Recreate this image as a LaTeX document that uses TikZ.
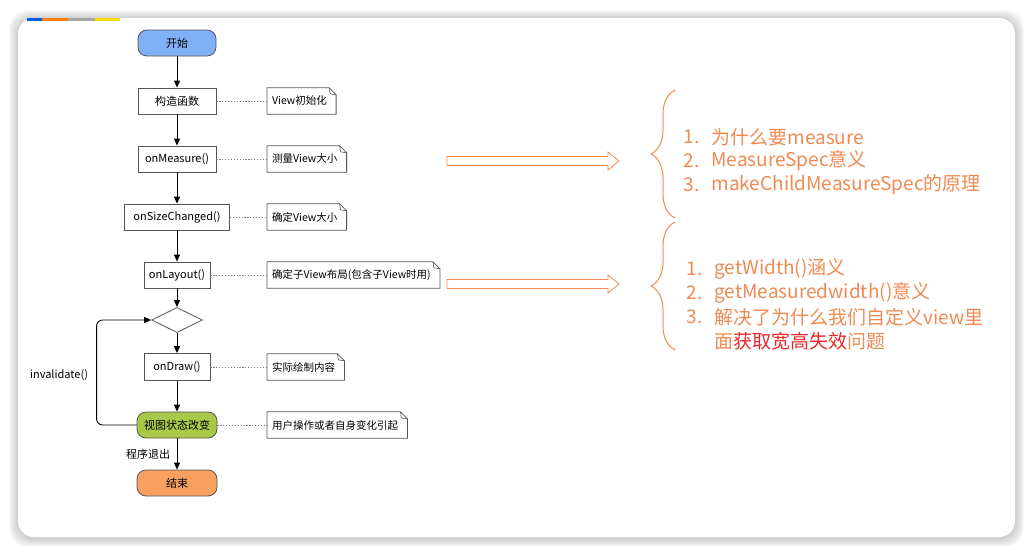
\documentclass[tikz,border=0pt]{standalone}
\usepackage{fontspec}
\setmainfont{Noto Sans CJK SC}
\usetikzlibrary{arrows.meta,calc,shapes.geometric,decorations.pathreplacing}
\definecolor{orangeTxt}{RGB}{240,138,82}
\definecolor{rougeTxt}{RGB}{232,40,40}
\definecolor{bleuDebut}{RGB}{128,176,248}
\definecolor{vertEtat}{RGB}{168,200,72}
\definecolor{orangeFin}{RGB}{248,160,96}
\definecolor{bordGris}{RGB}{85,85,85}
\tikzset{>=Triangle,every node/.style={font=\fontsize{11}{13}\selectfont},flow/.style={line width=.9pt,-{Triangle[length=7pt,width=6pt]}},
 boite/.style={draw=bordGris,line width=.8pt,fill=white,minimum height=26pt,inner sep=2pt},terminal/.style={boite,rounded corners=9pt},
 note/.style={anchor=west,minimum height=26pt,inner xsep=5pt,font=\fontsize{10.5}{12}\selectfont,execute at end node={\hspace*{4pt}}},
 pointille/.style={draw=gray,line width=.9pt,dash pattern=on 1.2pt off 1.7pt},
 creux/.style={draw=orangeTxt,line width=.8pt,fill=white},
 liste/.style={text=orangeTxt,font=\fontsize{19}{23}\selectfont,anchor=west}}

\begin{document}
\begin{tikzpicture}[x=1pt,y=-1pt]
\useasboundingbox (0,0) rectangle (1033,557);
% Carte blanche avec ombre douce
\foreach \k in {1,...,9} \fill[black,opacity=.022,rounded corners=18pt] (18-\k,18-\k+1) rectangle (1015+\k,537+\k+1);
\fill[white,rounded corners=16pt] (18,18) rectangle (1015,537);
\fill[blue!60!cyan!90!black] (27,18) rectangle (42,21);\fill[orange] (42,18) rectangle (68,21);\fill[gray!70] (68,18) rectangle (95,21);\fill[yellow!80!orange] (95,18) rectangle (120,21);
% Organigramme
\node[terminal,fill=bleuDebut,minimum width=78pt] (debut) at (177,43) {开始};
\node[boite,minimum width=78pt] (constr) at (177,101) {构造函数};
\node[boite,minimum width=78pt] (mesure) at (177,159) {onMeasure()};
\node[boite,minimum width=105pt] (taille) at (177,217) {onSizeChanged()};
\node[boite,minimum width=66pt] (layout) at (177,275) {onLayout()};
\node[draw=bordGris,line width=.8pt,fill=white,diamond,shape aspect=2,minimum width=51pt,minimum height=25pt,inner sep=0pt] (choix) at (177,320) {};
\node[boite,minimum width=66pt,minimum height=27pt] (dessin) at (177,367) {onDraw()};
\node[terminal,fill=vertEtat,minimum width=80pt] (etat) at (177,425) {视图状态改变};
\node[terminal,fill=orangeFin,minimum width=80pt] (fin) at (177,483) {结束};
\draw[flow] (debut)--(constr);\draw[flow] (constr)--(mesure);\draw[flow] (mesure)--(taille);\draw[flow] (taille)--(layout);
\draw[flow] (layout)--(choix);\draw[flow] (choix)--(dessin);\draw[flow] (dessin)--(etat);
\draw[flow] (etat)-- node[left,xshift=-3pt] (quitter){程序退出} (fin);
\draw[flow,rounded corners=6pt] (etat.west)--++(-40,0) |- (choix.west);\node (inval) at (59,375) {invalidate()};
% Notes
\node[note] (nInit) at (267,101) {View初始化};\node[note] (nMes) at (267,159) {测量View大小};\node[note] (nTaille) at (267,217) {确定View大小};
\node[note] (nLayout) at (267,275) {确定子View布局(包含子View时用)};\node[note] (nDessin) at (267,367) {实际绘制内容};\node[note] (nEtat) at (267,425) {用户操作或者自身变化引起};
\foreach \n in {nInit,nMes,nTaille,nLayout,nDessin,nEtat}{
 \draw[draw=bordGris,line width=.8pt] (\n.north west)--($(\n.north east)+(-7,0)$)--($(\n.north east)+(0,7)$)--(\n.south east)--(\n.south west)--cycle;
 \draw[draw=bordGris,line width=.6pt] ($(\n.north east)+(-7,0)$)--($(\n.north east)+(-6,6)$)--($(\n.north east)+(0,7)$);}
\draw[pointille] (constr.east)--(nInit.west);\draw[pointille] (mesure.east)--(nMes.west);\draw[pointille] (taille.east)--(nTaille.west);
\draw[pointille] (layout.east)--(nLayout.west);\draw[pointille] (dessin.east)--(nDessin.west);\draw[pointille] (etat.east)--(nEtat.west);
% Flèches creuses et accolades
\foreach \y in {161,284} \draw[creux] (447,\y-4.5)--(608,\y-4.5)--(608,\y-9)--(619,\y)--(608,\y+9)--(608,\y+4.5)--(447,\y+4.5)--cycle;
\draw[orangeTxt,line width=1pt,decorate,decoration={brace,amplitude=24pt}] (675,218)--(675,90);
\draw[orangeTxt,line width=1pt,decorate,decoration={brace,amplitude=24pt}] (675,350)--(675,222);
\foreach \y/\t [count=\i] in {137/为什么要measure,161/MeasureSpec意义,185/makeChildMeasureSpec的原理}{\node[liste] (numA\i) at (680,\y) {\i.};\node[liste] (itemA\i) at (708,\y) {\t};}
\node[liste] (numB1) at (683,269) {1.};\node[liste] (itemB1) at (711,269) {getWidth()涵义};
\node[liste] (numB2) at (683,293) {2.};\node[liste] (itemB2) at (711,293) {getMeasuredwidth()意义};
\node[liste] (numB3) at (683,317) {3.};\node[liste] (itemB3) at (711,317) {解决了为什么我们自定义view里};
\node[liste] (itemB4) at (711,341) {面{\color{rougeTxt}获取宽高失效}问题};
\end{tikzpicture}
\end{document}
